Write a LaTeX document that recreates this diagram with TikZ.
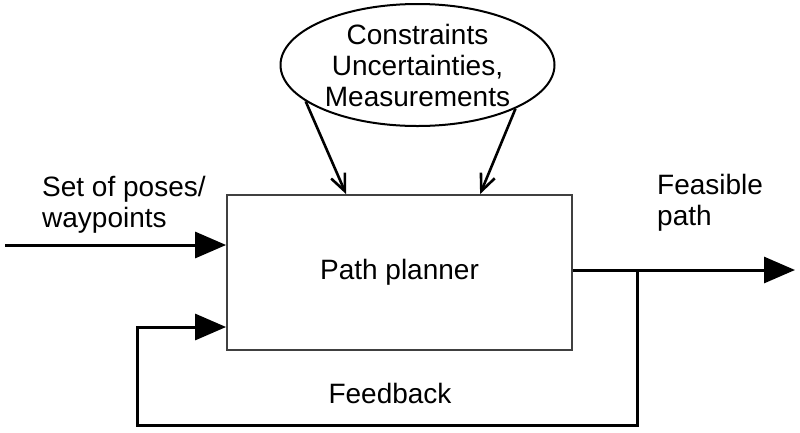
\documentclass[tikz,border=0pt]{standalone}
\usepackage{fontspec}
\setmainfont{Liberation Sans}
\usetikzlibrary{arrows.meta,shapes.geometric}

\begin{document}
\begin{tikzpicture}[x=1pt,y=1pt,
  lbl/.style={font=\fontsize{28}{31}\selectfont, inner sep=0pt, align=left},
  bigtip/.style={-{Triangle[length=31pt,width=26pt]}, line width=3pt},
  smalltip/.style={-{Straight Barb[length=17pt,width=15pt,line width=2.6pt]}, line width=2.6pt}]
\useasboundingbox (0,0) rectangle (800,-432);
\node[draw=black!75, line width=1.8pt, minimum width=345pt, minimum height=155pt,
  font=\fontsize{28}{31}\selectfont] (planner) at (399.5,-272.5) {Path planner};
\node[ellipse, draw, line width=2pt, minimum width=274pt, minimum height=122pt,
  inner sep=0pt, align=center, font=\fontsize{28}{31}\selectfont] (cons) at (417.5,-65)
  {Constraints\\Uncertainties,\\Measurements};
\node[lbl, anchor=west] (poses) at (42,-205) {Set of poses/\\waypoints};
\node[lbl, anchor=west] (feas) at (657,-203) {Feasible\\path};
\node[lbl] (fblbl) at (390,-393) {Feedback};
\coordinate (in) at (5,-245);
\coordinate (out) at (795,-270);
\coordinate (branch) at (637,-270);
\coordinate (corner) at (137,-425);
% inputs from the ellipse
\draw[smalltip] (cons.198.6) -- ([xshift=120pt]planner.north west);
\draw[smalltip] (cons.336.5) -- ([xshift=254pt]planner.north west);
% main line
\draw[bigtip] (in) -- (in -| planner.west);
\draw[bigtip] ([yshift=2.5pt]planner.east) -- (out);
% feedback loop
\draw[bigtip] (branch) |- (corner) |- ([yshift=-54.5pt]planner.west);
\end{tikzpicture}
\end{document}
